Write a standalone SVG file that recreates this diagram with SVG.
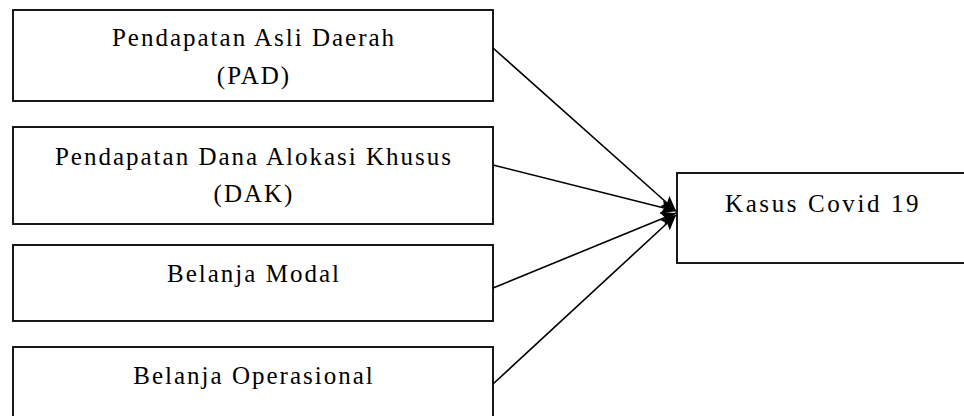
<svg xmlns="http://www.w3.org/2000/svg" width="964" height="416" viewBox="0 0 964 416">
<defs>
<style>
.box{fill:#fff;stroke:#000;stroke-width:1.8}
.t{font-family:"Liberation Serif","Times New Roman",serif;font-size:25px;letter-spacing:2px;fill:#000;text-anchor:middle}
.c{stroke:#000;stroke-width:1.6;fill:none}
</style>
<marker id="ah" markerUnits="userSpaceOnUse" markerWidth="16" markerHeight="14" refX="15" refY="7" orient="auto">
<path d="M0,0 L15,7 L0,14 L3,7 Z" fill="#000"/>
</marker>
</defs>
<rect width="964" height="416" fill="#fff"/>
<g id="pad">
<rect class="box" x="13" y="10" width="480" height="91"/>
<text class="t" x="254" y="46">Pendapatan Asli Daerah</text>
<text class="t" x="254" y="84">(PAD)</text>
</g>
<g id="dak">
<rect class="box" x="13" y="127" width="480" height="97"/>
<text class="t" x="254" y="165">Pendapatan Dana Alokasi Khusus</text>
<text class="t" x="254" y="202">(DAK)</text>
</g>
<g id="modal">
<rect class="box" x="13" y="245" width="480" height="76"/>
<text class="t" x="254" y="282">Belanja Modal</text>
</g>
<g id="operasional">
<rect class="box" x="13" y="347" width="480" height="80"/>
<text class="t" x="254" y="384">Belanja Operasional</text>
</g>
<g id="covid">
<rect class="box" x="677" y="173" width="300" height="90"/>
<text class="t" x="725" y="212" style="text-anchor:start;letter-spacing:2.6px">Kasus Covid 19</text>
</g>
<g id="connectors">
<line class="c" x1="493" y1="48" x2="676" y2="211" marker-end="url(#ah)"/>
<line class="c" x1="493" y1="165" x2="676" y2="211" marker-end="url(#ah)"/>
<line class="c" x1="493" y1="288" x2="676" y2="213" marker-end="url(#ah)"/>
<line class="c" x1="493" y1="384" x2="676" y2="215" marker-end="url(#ah)"/>
</g>
</svg>
